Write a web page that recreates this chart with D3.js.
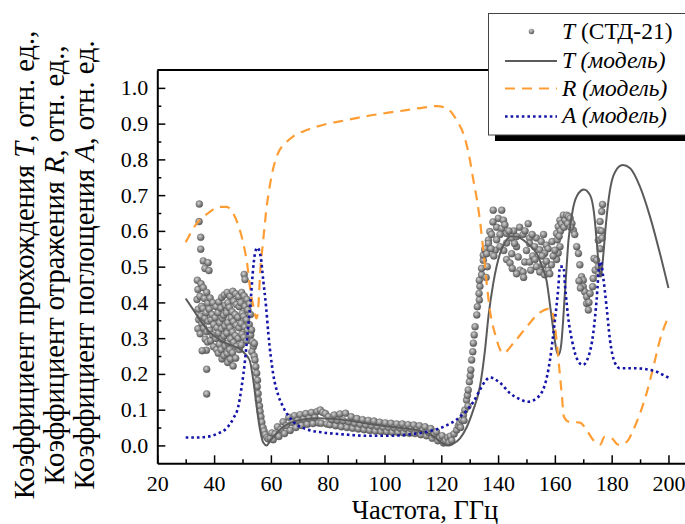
<!DOCTYPE html>
<html>
<head>
<meta charset="utf-8">
<script src="https://cdn.jsdelivr.net/npm/d3@7"></script>
</head>
<body style="margin:0; background:#fff">
<script>
// chart size
var width = 685,
    height = 524;
var serif = "'Liberation Serif', 'Times New Roman', serif";

// tick values
var xMajor = [20, 40, 60, 80, 100, 120, 140, 160, 180, 200];
var xMinor = [30, 50, 70, 90, 110, 130, 150, 170, 190];
var yMajor = [0.0, 0.1, 0.2, 0.3, 0.4, 0.5, 0.6, 0.7, 0.8, 0.9, 1.0];
var yMinor = [0.05, 0.15, 0.25, 0.35, 0.45, 0.55, 0.65, 0.75, 0.85, 0.95];

// T model [frequency GHz, value]
var tModel = [[30,0.411],[32.7,0.379],[35,0.351],[38,0.32],[42,0.295],[46,0.28],[49,0.27],[51,0.255],
  [52.6,0.236],[53.8,0.183],[55,0.108],[56.2,0.043],[57.3,0.008],[58.5,0.0],[59.7,0.012],[62,0.034],
  [64.4,0.052],[67,0.064],[70.2,0.071],[76.1,0.076],[83.2,0.073],[90.2,0.066],[97.3,0.057],[104.3,0.05],
  [111.3,0.043],[115,0.035],[117.2,0.026],[120.5,0.005],[122,0.0],[124,0.004],[126.6,0.02],[128.9,0.05],
  [131.3,0.1],[133.6,0.164],[135.4,0.267],[136.6,0.36],[138.3,0.453],[140.7,0.537],[142.5,0.568],
  [144.2,0.584],[146.5,0.584],[148.9,0.574],[151.3,0.558],[153.6,0.537],[155.5,0.5],[157.1,0.46],
  [158.5,0.38],[159.7,0.31],[160.6,0.265],[161.3,0.253],[162.2,0.28],[163.6,0.435],[164.8,0.574],
  [166.5,0.667],[168.3,0.705],[170.2,0.716],[172.4,0.7],[173.8,0.649],[174.7,0.574],[175.5,0.5],
  [176.2,0.472],[177,0.528],[178,0.621],[179.4,0.714],[181.2,0.765],[183.9,0.784],[186.5,0.775],
  [190,0.723],[193.5,0.64],[197,0.537],[200,0.44]];

// R model
var rModel = [[30,0.568],[33.9,0.621],[38.3,0.652],[41.5,0.667],[44.4,0.667],[46.5,0.652],[48.5,0.616],
  [50.3,0.565],[51.7,0.504],[52.6,0.444],[53.8,0.39],[54.9,0.355],[55.6,0.39],[56.2,0.481],[57.3,0.574],
  [58.5,0.667],[59.4,0.715],[60.3,0.756],[62,0.807],[65.6,0.849],[68,0.865],[72.6,0.882],[79.6,0.899],
  [86.7,0.91],[93.7,0.921],[100.8,0.93],[107.8,0.938],[113.7,0.945],[118.4,0.949],[121.9,0.943],
  [125.4,0.91],[128.3,0.859],[130.1,0.798],[131.3,0.742],[132.5,0.69],[133.6,0.63],[134.8,0.546],
  [136,0.453],[137.1,0.379],[138.9,0.313],[141.8,0.258],[145.4,0.286],[150.1,0.332],[154.8,0.372],
  [158.5,0.383],[160.6,0.295],[161.5,0.22],[162.4,0.146],[163.2,0.08],[165,0.066],[168.8,0.064],
  [171.2,0.043],[173.5,0.015],[175.9,0.002],[177.5,0.024],[180,0.02],[182.3,0.002],[185.3,0.01],
  [187.6,0.043],[190,0.09],[192.3,0.146],[194.7,0.22],[197,0.295],[200,0.36]];

// A model
var aModel = [[30,0.022],[33.3,0.022],[37.4,0.024],[41.5,0.034],[44.4,0.048],[46.8,0.076],[48.5,0.108],
  [49.7,0.164],[50.9,0.239],[52,0.332],[52.9,0.407],[53.6,0.481],[54.4,0.537],[55.2,0.553],[56.4,0.528],
  [57.3,0.462],[58.3,0.388],[59.1,0.313],[60.8,0.2],[62.6,0.14],[64.3,0.108],[67.9,0.066],[72.6,0.045],
  [78.5,0.036],[85.5,0.031],[93.7,0.027],[101.9,0.027],[109,0.031],[114.9,0.038],[120.7,0.052],
  [126.6,0.08],[131.3,0.122],[133.6,0.155],[135.5,0.18],[137.1,0.19],[140.7,0.175],[144.2,0.146],
  [147.7,0.129],[150.6,0.122],[153.6,0.132],[156.5,0.17],[158.3,0.24],[160,0.35],[161.2,0.44],
  [161.8,0.5],[163,0.5],[163.6,0.444],[164.8,0.351],[166,0.295],[167.7,0.244],[169.8,0.225],
  [171.8,0.248],[173.5,0.313],[174.7,0.407],[175.6,0.5],[176.2,0.514],[177,0.472],[178.2,0.388],
  [179.4,0.295],[181.2,0.23],[182.9,0.216],[187.6,0.216],[192.3,0.213],[195.8,0.206],[199.4,0.192],[200,0.19]];

// T measured (СТД-21)
var tExp = [
  [34.8,0.675],[34.7,0.626],[35.3,0.582],[35.3,0.549],[36.2,0.516],[37.9,0.511],[36.8,0.495],[38.2,0.489],
  [34.1,0.462],[34.3,0.436],[34.0,0.408],[34.4,0.381],[34.6,0.352],[34.3,0.326],
  [35.4,0.452],[35.0,0.417],[35.6,0.389],[35.2,0.362],[35.7,0.341],[35.1,0.312],
  [36.2,0.441],[36.6,0.411],[36.1,0.383],[36.8,0.356],[36.4,0.328],[36.9,0.297],
  [37.4,0.428],[37.8,0.398],[37.2,0.371],[37.9,0.347],[37.5,0.318],[37.7,0.289],[37.3,0.266],
  [38.6,0.412],[38.3,0.381],[38.9,0.352],[38.5,0.322],[38.8,0.293],
  [39.6,0.399],[39.3,0.366],[39.9,0.338],[39.5,0.309],[39.8,0.276],
  [40.7,0.388],[40.4,0.357],[41.0,0.329],[40.6,0.299],[40.9,0.268],
  [41.7,0.401],[41.4,0.371],[42.0,0.343],[41.6,0.314],[41.9,0.283],[41.5,0.258],
  [42.7,0.414],[42.4,0.384],[43.0,0.355],[42.6,0.326],[42.9,0.297],[42.5,0.268],[42.8,0.242],
  [43.6,0.421],[43.9,0.392],[43.4,0.364],[43.8,0.334],[43.5,0.306],[43.9,0.278],[43.5,0.251],
  [44.6,0.428],[44.9,0.399],[44.4,0.371],[44.8,0.343],[44.5,0.314],[44.9,0.286],[44.6,0.257],[44.8,0.232],
  [45.7,0.417],[45.4,0.386],[46.0,0.357],[45.6,0.329],[45.9,0.298],[45.5,0.268],[45.8,0.241],
  [46.6,0.431],[46.9,0.403],[46.4,0.374],[46.8,0.346],[46.5,0.317],[46.9,0.288],[46.5,0.259],[46.7,0.222],
  [47.6,0.424],[47.9,0.394],[47.4,0.366],[47.8,0.336],[47.5,0.307],[47.9,0.277],[47.6,0.244],
  [48.6,0.416],[48.9,0.388],[48.4,0.358],[48.8,0.329],[48.5,0.299],[48.9,0.268],
  [49.7,0.428],[49.4,0.399],[49.9,0.369],[49.5,0.341],[49.8,0.311],[49.6,0.281],
  [50.6,0.418],[50.9,0.389],[50.4,0.361],[50.8,0.331],[50.5,0.302],
  [51.6,0.408],[51.9,0.379],[51.4,0.351],[51.8,0.322],[51.5,0.293],
  [52.5,0.396],[52.8,0.366],[52.4,0.338],[52.9,0.309],
  [35.8,0.265],[37.4,0.213],[37.4,0.144],[50.6,0.478],[50.9,0.464],
  [53.2,0.323],[53.5,0.29],[53.8,0.276],[53.3,0.262],[54.1,0.25],[54.4,0.239],[54.2,0.285],[54.7,0.22],
  [55.0,0.202],[55.3,0.182],[55.2,0.164],[55.5,0.145],[55.6,0.127],[56.0,0.11],[56.2,0.095],[56.5,0.08],
  [56.8,0.065],[57.2,0.05],[57.6,0.04],[58.0,0.03],[58.6,0.022],[59.1,0.018],[59.8,0.02],
  [60.3,0.035],[60.8,0.016],[61.5,0.032],[62.3,0.052],[62.8,0.025],
  [63.5,0.044],[64.3,0.066],[64.8,0.033],[65.5,0.055],
  [66.3,0.079],[66.8,0.042],[67.5,0.064],[68.3,0.083],[68.8,0.05],
  [69.5,0.07],[70.3,0.086],[70.8,0.056],[71.5,0.073],
  [72.3,0.089],[72.8,0.059],[73.5,0.076],[74.3,0.092],[74.8,0.061],
  [75.5,0.078],[76.3,0.095],[76.8,0.063],[77.4,0.099],[77.7,0.062],
  [78.3,0.092],[79.2,0.089],[79.7,0.06],[80.3,0.08],[80.8,0.058],
  [81.5,0.072],[82.3,0.085],[82.8,0.055],[83.5,0.07],
  [84.3,0.088],[84.8,0.052],[85.5,0.069],[86.3,0.09],[86.8,0.05],
  [87.5,0.066],[88.3,0.08],[88.8,0.048],[89.5,0.062],
  [90.3,0.075],[90.8,0.046],[91.5,0.059],[92.3,0.072],[92.8,0.044],
  [93.5,0.057],[94.3,0.07],[94.8,0.042],[95.5,0.055],
  [96.3,0.068],[96.8,0.04],[97.5,0.053],[98.3,0.065],[98.8,0.039],
  [99.5,0.051],[100.3,0.063],[100.8,0.038],[101.5,0.05],
  [102.3,0.062],[102.8,0.037],[103.5,0.049],[104.3,0.06],[104.8,0.036],
  [105.5,0.048],[106.3,0.06],[106.8,0.035],[107.5,0.047],
  [108.3,0.058],[108.8,0.034],[109.5,0.046],[110.3,0.057],[110.8,0.033],
  [111.5,0.044],[112.3,0.055],[112.8,0.03],[113.5,0.042],
  [114.3,0.052],[114.8,0.027],[115.5,0.037],[116.3,0.047],[116.8,0.02],
  [117.5,0.03],[118.3,0.038],[118.8,0.013],[119.5,0.021],
  [120.3,0.027],[120.8,0.007],[121.5,0.014],[122.3,0.022],[122.8,0.008],
  [123.2,0.026],[123.7,0.014],
  [124.5,0.032],[125.4,0.043],[126,0.055],[126.5,0.062],[127.2,0.071],[127.8,0.085],[128.3,0.099],
  [128.9,0.127],[129.2,0.14],[129.5,0.155],[129.9,0.178],[130.2,0.195],[130.4,0.211],[130.7,0.239],
  [131.1,0.262],[131.3,0.286],[131.6,0.309],[131.9,0.332],[132.5,0.365],[132.7,0.388],[133.4,0.407],
  [133.3,0.425],[133.6,0.445],[133.4,0.462],[134.2,0.477],[134.2,0.495],[134.8,0.518],[134.8,0.532],
  [135.4,0.546],[136.6,0.574],[137.1,0.598],[126.8,0.05],[128,0.07],[129.4,0.11],
  [138.3,0.658],[141.3,0.658],[140.1,0.635],[137.7,0.59],[139.5,0.61],[141.3,0.607],[141.9,0.63],
  [142.4,0.617],[143,0.593],[140.7,0.59],[139.5,0.575],[136.6,0.565],[135.4,0.55],[136,0.536],[139,0.546],
  [140.7,0.556],[143,0.566],[144.8,0.58],[146.5,0.584],[147.6,0.61],[150.6,0.62],[148.8,0.59],[151.1,0.58],
  [153.5,0.58],[155.2,0.57],[157,0.56],[157.6,0.55],[151.1,0.565],[152.9,0.556],[154.7,0.547],[156.4,0.537],
  [146.5,0.556],[144.8,0.536],[143,0.52],[144.2,0.51],[147.1,0.527],[149.4,0.513],[151.1,0.513],[153.5,0.5],
  [155.8,0.505],[157.6,0.49],[147.7,0.49],[146.5,0.48],[148.8,0.485],[154.7,0.485],[156.4,0.477],[158.2,0.48],
  [160.6,0.52],[161.2,0.538],[161.8,0.556],[159.4,0.53],[160,0.546],[158.8,0.505],
  [137.5,0.55],[138.5,0.53],[136.2,0.5],[135.8,0.47],[145.5,0.6],[149.5,0.6],[152,0.59],[150,0.545],
  [152.2,0.53],[145.8,0.565],[142,0.545],[138.2,0.625],[143.8,0.6],[155.5,0.53],[153,0.52],[149,0.47],
  [151.5,0.49],[145,0.495],[157,0.515],[159,0.57],[156,0.59],
  [160.6,0.593],[161.2,0.612],[161.8,0.63],[162.4,0.62],[163,0.644],[163.6,0.63],[164.2,0.644],[164.8,0.64],
  [165.4,0.635],[166,0.621],[166.5,0.602],[167,0.59],[162,0.6],[163.2,0.61],[164.5,0.62],[165.6,0.61],
  [160.9,0.575],[161.5,0.585],[167.7,0.556],[168.3,0.537],[168.8,0.505],[169.4,0.472],[170,0.462],
  [170,0.444],[170.5,0.43],[171.2,0.416],[171.2,0.397],[171.8,0.379],[172.4,0.425],[172,0.4],[173.3,0.444],
  [173.5,0.467],[173.8,0.523],[174.7,0.518],[174.2,0.49],[175.3,0.574],[175.6,0.602],[175.9,0.626],
  [176.5,0.654],[176.8,0.674],[175.3,0.5],[176,0.55],[176.4,0.6],[168.5,0.46],[169,0.44],[175.5,0.48],[176.6,0.58]
];

// svg
var svg = d3.select("body").append("svg")
    .attr("width", width)
    .attr("height", height)
    .style("display", "block")
    .style("font-family", serif);

// sphere-like gradient for the measured points
var grad = svg.append("defs").append("radialGradient")
    .attr("id", "ball")
    .attr("cx", "40%").attr("cy", "35%").attr("r", "65%");
grad.append("stop").attr("offset", "0%").attr("stop-color", "#d2d2d2");
grad.append("stop").attr("offset", "55%").attr("stop-color", "#8c8c8c");
grad.append("stop").attr("offset", "100%").attr("stop-color", "#555");

// scales
var x = d3.scaleLinear().domain([20, 206]).range([157.3, 685.5]);
var y = d3.scaleLinear().domain([-0.05, 1.05]).range([463.3, 70]);

// top frame line
svg.append("line")
    .attr("x1", x(20)).attr("x2", width)
    .attr("y1", y(1.05)).attr("y2", y(1.05))
    .attr("stroke", "#000").attr("stroke-width", 2);

// helper to style an axis group
function styleAxis(g) {
  g.attr("font-family", null).attr("font-size", null);
  g.selectAll("path, line").attr("stroke", "#000");
  g.select(".domain").attr("stroke-width", 2);
  g.selectAll(".tick line").attr("stroke-width", 1.5);
  g.selectAll(".tick text")
      .style("font-family", serif)
      .style("font-size", "22px")
      .attr("fill", "#000");
}

// axes
svg.append("g")
    .attr("transform", "translate(0," + y(-0.05) + ")")
    .call(d3.axisBottom(x).tickValues(xMajor).tickSizeInner(-8).tickSizeOuter(0)
      .tickPadding(12).tickFormat(d3.format("d")))
    .call(styleAxis);

svg.append("g")
    .attr("transform", "translate(0," + y(-0.05) + ")")
    .call(d3.axisBottom(x).tickValues(xMinor).tickSizeInner(-4).tickSizeOuter(0).tickFormat(""))
    .call(styleAxis)
  .select(".domain").remove();

svg.append("g")
    .attr("transform", "translate(" + x(20) + ",0)")
    .call(d3.axisLeft(y).tickValues(yMajor).tickSizeInner(-8).tickSizeOuter(0)
      .tickPadding(9).tickFormat(d3.format(".1f")))
    .call(styleAxis);

svg.append("g")
    .attr("transform", "translate(" + x(20) + ",0)")
    .call(d3.axisLeft(y).tickValues(yMinor).tickSizeInner(-4).tickSizeOuter(0).tickFormat(""))
    .call(styleAxis)
  .select(".domain").remove();

// measured points
svg.append("g").selectAll("circle")
  .data(tExp)
  .enter().append("circle")
    .attr("cx", function(d) { return x(d[0]); })
    .attr("cy", function(d) { return y(d[1]); })
    .attr("r", 3.5)
    .attr("fill", "url(#ball)")
    .attr("stroke", "#5a5a5a")
    .attr("stroke-width", 0.4);

// model lines
var line = d3.line()
    .x(function(d) { return x(d[0]); })
    .y(function(d) { return y(d[1]); })
    .curve(d3.curveMonotoneX);

svg.append("path").datum(tModel)
    .attr("d", line).attr("fill", "none")
    .attr("stroke", "#5b5b5b").attr("stroke-width", 2);

svg.append("path").datum(rModel)
    .attr("d", line).attr("fill", "none")
    .attr("stroke", "#ff9d35").attr("stroke-width", 2.2)
    .attr("stroke-dasharray", "10,7");

svg.append("path").datum(aModel)
    .attr("d", line).attr("fill", "none")
    .attr("stroke", "#1414a8").attr("stroke-width", 2.6)
    .attr("stroke-dasharray", "2.6,3");

// axis titles
svg.append("text")
    .attr("x", 425).attr("y", 519)
    .attr("text-anchor", "middle")
    .style("font-family", serif)
    .style("font-size", "26.5px")
    .text("Частота, ГГц");

var yTitles = [["Коэффициент прохождения ", "T", ", отн. ед.,"],
               ["Коэффициент отражения ", "R", ", отн. ед.,"],
               ["Коэффициент поглощения ", "A", ", отн. ед."]];
yTitles.forEach(function(t, i) {
  var tx = svg.append("text")
      .attr("transform", "translate(" + (34 + i * 30) + ",265) rotate(-90)")
      .attr("text-anchor", "middle")
      .style("font-family", serif)
      .style("font-size", "28.5px");
  tx.append("tspan").text(t[0]);
  tx.append("tspan").style("font-style", "italic").text(t[1]);
  tx.append("tspan").text(t[2]);
});

// legend
var lg = svg.append("g");
lg.append("rect").attr("x", 495).attr("y", 19).attr("width", 200).attr("height", 122).attr("fill", "#000");
lg.append("rect").attr("x", 488.5).attr("y", 13.5).attr("width", 210).attr("height", 121.5)
    .attr("fill", "#fff").attr("stroke", "#444").attr("stroke-width", 1);

lg.append("circle").attr("cx", 531.5).attr("cy", 31.5).attr("r", 2.6)
    .attr("fill", "url(#ball)").attr("stroke", "#777").attr("stroke-width", 0.3);
lg.append("line").attr("x1", 505).attr("x2", 557).attr("y1", 61).attr("y2", 61)
    .attr("stroke", "#5b5b5b").attr("stroke-width", 2);
lg.append("line").attr("x1", 505).attr("x2", 557).attr("y1", 88.5).attr("y2", 88.5)
    .attr("stroke", "#ff9d35").attr("stroke-width", 2.2).attr("stroke-dasharray", "10,7");
lg.append("line").attr("x1", 505).attr("x2", 557).attr("y1", 116.5).attr("y2", 116.5)
    .attr("stroke", "#1414a8").attr("stroke-width", 2.6).attr("stroke-dasharray", "2.6,3");

var legendRows = [["T", " (СТД-21)", false, 39], ["T", " (модель)", true, 68],
                  ["R", " (модель)", true, 96], ["A", " (модель)", true, 123]];
legendRows.forEach(function(r) {
  var tx = lg.append("text").attr("x", 562).attr("y", r[3])
      .style("font-family", serif).style("font-size", "23.5px");
  tx.append("tspan").style("font-style", "italic").text(r[0]);
  tx.append("tspan").style("font-style", r[2] ? "italic" : "normal").text(r[1]);
});
</script>
</body>
</html>
